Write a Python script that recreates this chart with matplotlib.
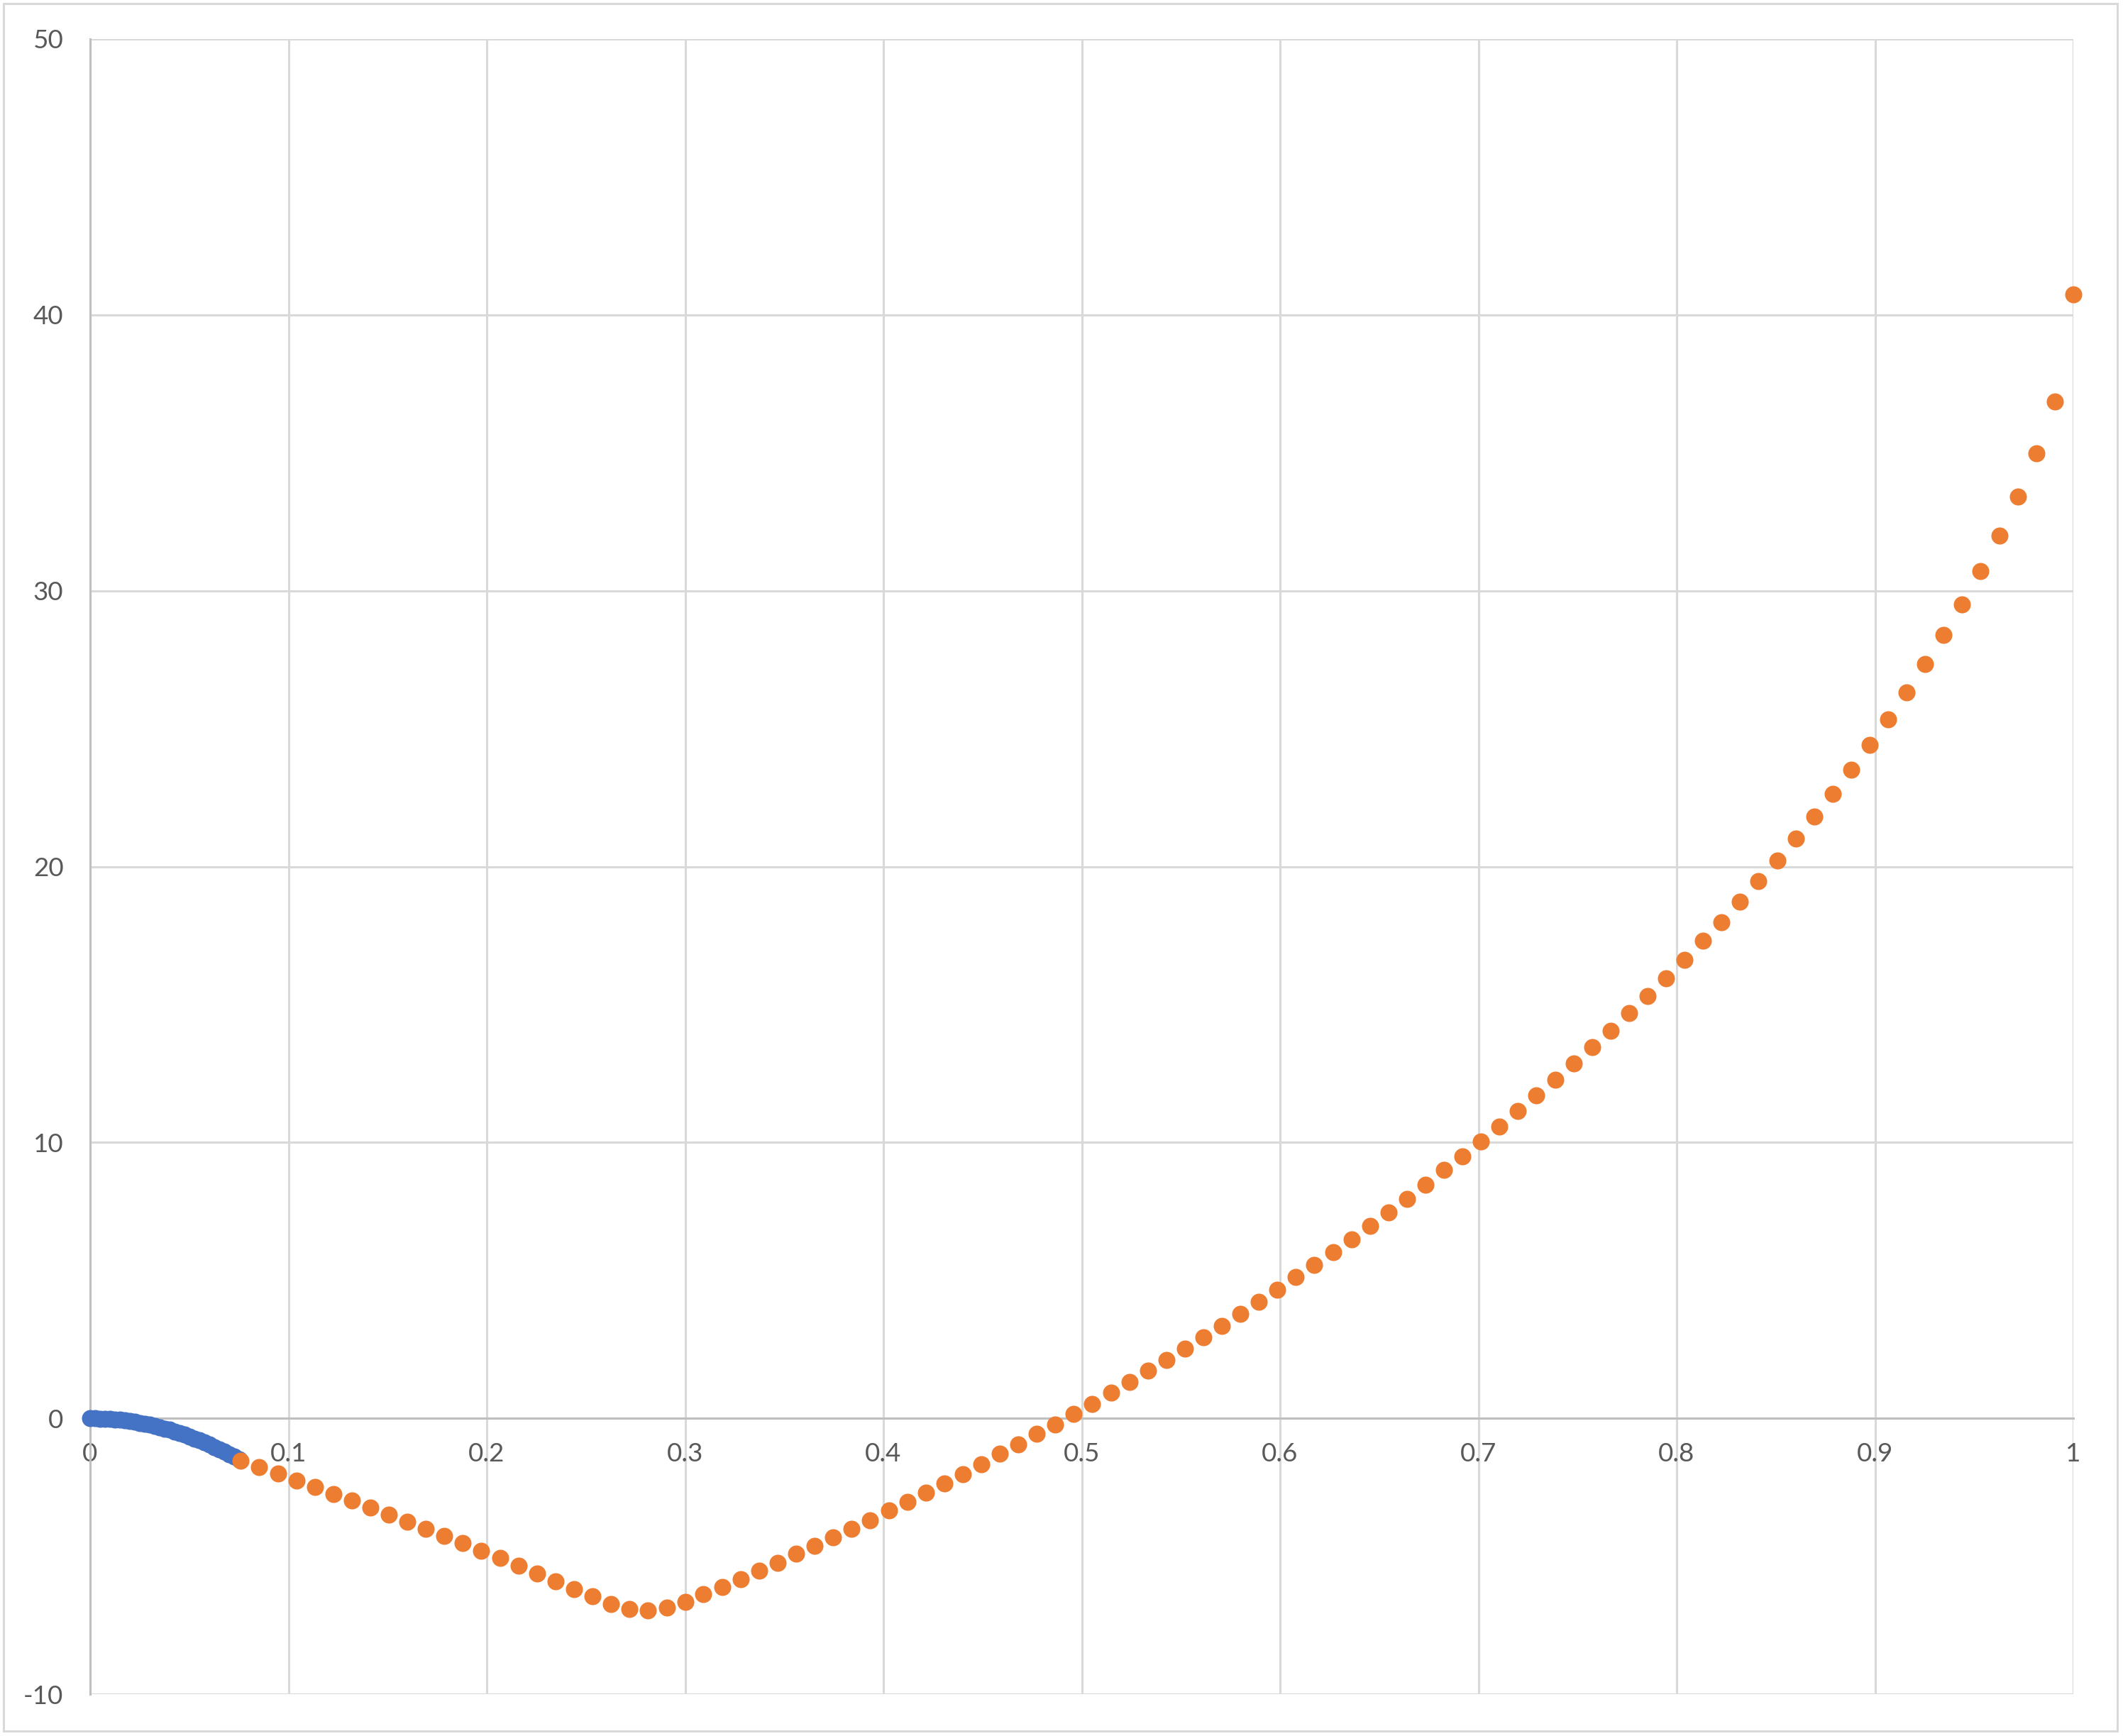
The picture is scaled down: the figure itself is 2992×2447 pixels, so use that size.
import matplotlib
matplotlib.use("Agg")
import matplotlib.pyplot as plt
from matplotlib.patches import Rectangle
from matplotlib.ticker import FixedLocator, FuncFormatter

# ---- data ----
blue_x = [0.0, 0.0025, 0.005, 0.0075, 0.01, 0.0125, 0.015, 0.0175, 0.02, 0.0225,
          0.025, 0.0275, 0.03, 0.0325, 0.035, 0.0375, 0.04, 0.0425, 0.045, 0.0475,
          0.05, 0.0525, 0.055, 0.0575, 0.06, 0.0625, 0.065, 0.0675, 0.07, 0.0725, 0.075]
blue_y = [0.0, 0.0, -0.01, -0.02, -0.03, -0.04, -0.06, -0.08, -0.11, -0.13,
          -0.17, -0.20, -0.24, -0.28, -0.33, -0.37, -0.42, -0.48, -0.54, -0.60,
          -0.66, -0.73, -0.80, -0.88, -0.95, -1.04, -1.12, -1.21, -1.30, -1.39, -1.49]

orange_x = [0.0760, 0.0853, 0.0947, 0.1040, 0.1133, 0.1227, 0.1320, 0.1413, 0.1507, 0.1600,
            0.1693, 0.1787, 0.1880, 0.1973, 0.2067, 0.2160, 0.2253, 0.2347, 0.2440, 0.2533,
            0.2627, 0.2720, 0.2813, 0.2907, 0.3000, 0.3093, 0.3187, 0.3280, 0.3373, 0.3467,
            0.3560, 0.3653, 0.3747, 0.3840, 0.3933, 0.4027, 0.4120, 0.4213, 0.4307, 0.4400,
            0.4493, 0.4587, 0.4680, 0.4773, 0.4867, 0.4960, 0.5053, 0.5147, 0.5240, 0.5333,
            0.5427, 0.5520, 0.5613, 0.5707, 0.5800, 0.5893, 0.5987, 0.6080, 0.6173, 0.6267,
            0.6360, 0.6453, 0.6547, 0.6640, 0.6733, 0.6827, 0.6920, 0.7013, 0.7107, 0.7200,
            0.7293, 0.7387, 0.7480, 0.7573, 0.7667, 0.7760, 0.7853, 0.7947, 0.8040, 0.8133,
            0.8227, 0.8320, 0.8413, 0.8507, 0.8600, 0.8693, 0.8787, 0.8880, 0.8973, 0.9067,
            0.9160, 0.9253, 0.9347, 0.9440, 0.9533, 0.9627, 0.9720, 0.9813, 0.9907, 1.0000]
orange_y = [-1.53, -1.76, -1.99, -2.25, -2.48, -2.74, -2.98, -3.24, -3.49, -3.75,
            -4.01, -4.26, -4.52, -4.80, -5.05, -5.35, -5.63, -5.91, -6.19, -6.45,
            -6.73, -6.92, -6.97, -6.86, -6.65, -6.37, -6.11, -5.83, -5.53, -5.24,
            -4.92, -4.62, -4.31, -4.00, -3.70, -3.35, -3.02, -2.69, -2.35, -2.02,
            -1.66, -1.29, -0.96, -0.57, -0.22, 0.16, 0.53, 0.92, 1.32, 1.72,
            2.12, 2.53, 2.94, 3.36, 3.79, 4.23, 4.67, 5.11, 5.57, 6.03,
            6.49, 6.98, 7.47, 7.95, 8.47, 9.00, 9.50, 10.03, 10.58, 11.14,
            11.71, 12.27, 12.86, 13.46, 14.04, 14.69, 15.30, 15.96, 16.62, 17.30,
            17.99, 18.72, 19.46, 20.21, 21.01, 21.81, 22.63, 23.52, 24.42, 25.33,
            26.31, 27.33, 28.40, 29.50, 30.72, 32.01, 33.41, 34.99, 36.86, 40.74]

x_ticks = [0, 0.1, 0.2, 0.3, 0.4, 0.5, 0.6, 0.7, 0.8, 0.9, 1]
x_tick_labels = ["0", "0.1", "0.2", "0.3", "0.4", "0.5", "0.6", "0.7", "0.8", "0.9", "1"]
y_ticks = [-10, 0, 10, 20, 30, 40, 50]
y_tick_labels = ["-10", "0", "10", "20", "30", "40", "50"]

# ---- figure ----
W, H, DPI = 2992, 2447, 100
fig = plt.figure(figsize=(W / DPI, H / DPI), dpi=DPI)
plt.rcParams['font.family'] = ['Lato', 'DejaVu Sans']

left, right, top, bottom = 127, 2922, 55, 2388
ax = fig.add_axes([left / W, 1 - bottom / H, (right - left) / W, (bottom - top) / H])

ax.set_xlim(0, 1)
ax.set_ylim(-10, 50)

grid_c = "#d9d9d9"
axis_c = "#bfbfbf"
lw = 2.2

ax.xaxis.set_major_locator(FixedLocator(x_ticks))
ax.yaxis.set_major_locator(FixedLocator(y_ticks))
ax.set_xticklabels(x_tick_labels)
ax.set_yticklabels(y_tick_labels)
ax.grid(True, color=grid_c, linewidth=lw, zorder=0)
ax.set_axisbelow(True)

for s in ["top", "right"]:
    ax.spines[s].set_visible(False)
ax.spines["bottom"].set_position(("data", 0))
ax.spines["bottom"].set_color(axis_c)
ax.spines["bottom"].set_linewidth(lw)
ax.spines["left"].set_color(axis_c)
ax.spines["left"].set_linewidth(lw)

ax.tick_params(axis="both", length=0, labelsize=26.5, labelcolor="#595959")
ax.tick_params(axis="x", pad=24)
ax.tick_params(axis="y", pad=27)

msize = 300
ax.scatter(blue_x, blue_y, s=msize, color="#4472C4", linewidths=0, zorder=3, clip_on=False)
ax.scatter(orange_x, orange_y, s=msize, color="#ED7D31", linewidths=0, zorder=4, clip_on=False)

# chart-area border
fig.patches.append(Rectangle((5 / W, 1 - 2440 / H), 2979 / W, 2435 / H,
                             transform=fig.transFigure, fill=False,
                             edgecolor=grid_c, linewidth=lw))

fig.savefig("out.png", dpi=DPI)
